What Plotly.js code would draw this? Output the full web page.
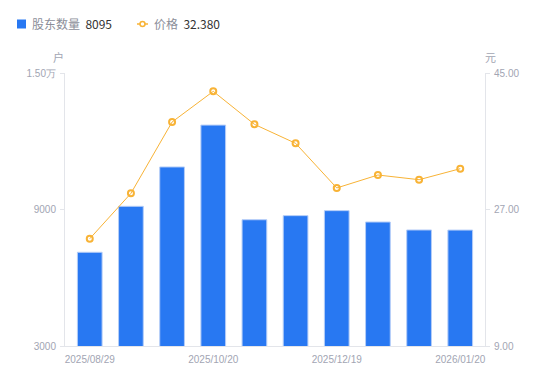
<!DOCTYPE html>
<html>
<head>
<meta charset="utf-8">
<script src="https://cdn.plot.ly/plotly-3.0.1.min.js"></script>
<style>html,body{margin:0;padding:0;background:#fff;}#chart{width:550px;height:381px;}</style>
</head>
<body>
<div id="chart"></div>
<script>
// Data
const dates = ["2025/08/29","2025/09/19","2025/09/30","2025/10/20","2025/10/31","2025/11/20","2025/12/19","2025/12/31","2026/01/09","2026/01/20"];
const holders = [7120, 9140, 10870, 12710, 8550, 8730, 8950, 8450, 8100, 8095];
const prices = [23.15, 29.13, 38.54, 42.58, 38.23, 35.73, 29.84, 31.55, 30.93, 32.38];
const shownDates = ["2025/08/29","2025/10/20","2025/12/19","2026/01/20"];
const leftTicks = [3000, 9000, 15000];
const leftTickText = ["3000", "9000", "1.50万"];
const rightTicks = [9, 27, 45];
const rightTickText = ["9.00", "27.00", "45.00"];
const barName = "股东数量";
const lineName = "价格";

const blue = "#2878f2";
const orange = "#f8b336";
const axisGrey = "#e3e5ea";
const labelGrey = "#a2a5b3";

const traces = [
  {
    type: "bar", x: dates, y: holders, name: barName, yaxis: "y",
    marker: {color: blue, line: {color: "#b5cdf7", width: 1}},
    width: 0.6, showlegend: false, hoverinfo: "x+y"
  },
  {
    type: "scatter", mode: "lines+markers", x: dates, y: prices, name: lineName, yaxis: "y2",
    line: {color: orange, width: 1},
    marker: {symbol: "circle-open", size: 6, color: orange, line: {width: 2, color: orange}},
    showlegend: false, cliponaxis: false
  }
];

const lastHolder = holders[holders.length - 1];
const lastPrice = prices[prices.length - 1];

const layout = {
  width: 550, height: 381,
  margin: {l: 65, r: 65, t: 73, b: 35},
  paper_bgcolor: "#fff", plot_bgcolor: "#fff",
  font: {family: "Liberation Sans, Arial, sans-serif", size: 10, color: labelGrey},
  bargap: 0.4,
  xaxis: {
    type: "category", tickmode: "array", tickvals: shownDates, ticktext: shownDates,
    showline: true, linecolor: axisGrey, linewidth: 1, ticks: "outside", ticklen: 3, tickcolor: "rgba(0,0,0,0)",
    showgrid: false, zeroline: false,
    tickfont: {size: 10, color: labelGrey}, fixedrange: true, ticklabelstandoff: 1
  },
  yaxis: {
    range: [3000, 15000], tickmode: "array", tickvals: leftTicks, ticktext: leftTickText,
    showline: true, linecolor: axisGrey, linewidth: 1, ticks: "outside", ticklen: 4, tickcolor: axisGrey,
    showgrid: false, zeroline: false, tickfont: {size: 10, color: labelGrey}, ticklabelstandoff: 2
  },
  yaxis2: {
    overlaying: "y", side: "right", range: [9, 45], tickmode: "array", tickvals: rightTicks, ticktext: rightTickText,
    showline: true, linecolor: axisGrey, linewidth: 1, ticks: "outside", ticklen: 4, tickcolor: axisGrey,
    showgrid: false, zeroline: false, tickfont: {size: 10, color: labelGrey}, ticklabelstandoff: 2
  },
  shapes: [
    {type: "rect", xref: "paper", yref: "paper", x0: -65/420 + 17/420, x1: -65/420 + 26/420,
     y0: (346-28.5)/273, y1: (346-19.5)/273, fillcolor: blue, line: {width: 0}},
    {type: "line", xref: "paper", yref: "paper", x0: -65/420 + 137/420, x1: -65/420 + 148/420,
     y0: (346-24)/273, y1: (346-24)/273, line: {color: orange, width: 1.5}},
    {type: "circle", xref: "paper", yref: "paper", x0: -65/420 + 140/420, x1: -65/420 + 145/420,
     y0: (346-26.5)/273, y1: (346-21.5)/273, fillcolor: "#fff", line: {color: orange, width: 1.5}}
  ],
  annotations: [
    {xref: "paper", yref: "paper", x: -65/420 + 30/420, y: (346-24)/273, xanchor: "left", yanchor: "middle",
     text: barName + '  <span style="color:#333">' + lastHolder + '</span>', showarrow: false,
     font: {size: 12, color: "#8b8e99", family: "Noto Sans CJK SC, Liberation Sans, sans-serif"}},
    {xref: "paper", yref: "paper", x: -65/420 + 152/420, y: (346-24)/273, xanchor: "left", yanchor: "middle",
     text: lineName + '  <span style="color:#333">' + lastPrice.toFixed(3) + '</span>', showarrow: false,
     font: {size: 12, color: "#8b8e99", family: "Noto Sans CJK SC, Liberation Sans, sans-serif"}},
    {xref: "paper", yref: "paper", x: -7/420, y: (346-57)/273, xanchor: "center", yanchor: "middle",
     text: "户", showarrow: false, font: {size: 11, color: labelGrey, family: "Noto Sans CJK SC, sans-serif"}},
    {xref: "paper", yref: "paper", x: 1 + 5/420, y: (346-57)/273, xanchor: "center", yanchor: "middle",
     text: "元", showarrow: false, font: {size: 11, color: labelGrey, family: "Noto Sans CJK SC, sans-serif"}}
  ],
  showlegend: false
};

Plotly.newPlot("chart", traces, layout, {displayModeBar: false, staticPlot: true});
</script>
</body>
</html>
